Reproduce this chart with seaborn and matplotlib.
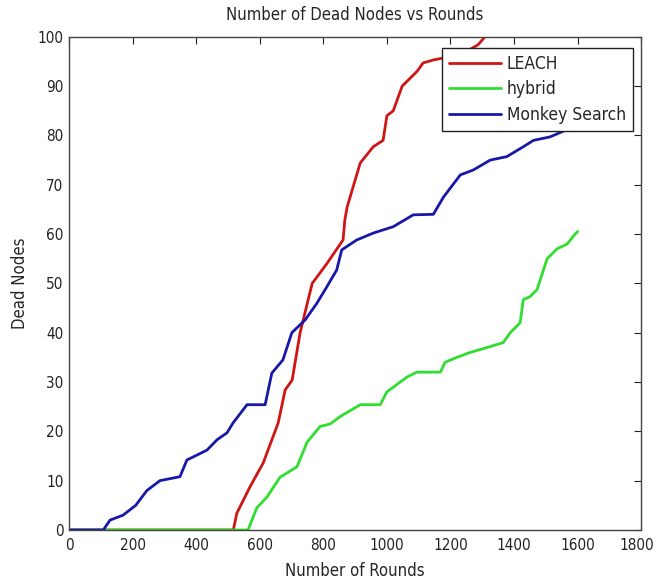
import matplotlib
matplotlib.use("Agg")
import matplotlib.pyplot as plt
import matplotlib.transforms as mtransforms
import seaborn as sns
import pandas as pd

# ---- data ----
leach_rounds = [0, 517, 528, 569, 611, 658, 680, 702, 727, 765, 811, 862, 868, 875, 916, 957,
                988, 1000, 1020, 1048, 1095, 1114, 1146, 1200, 1250, 1287, 1315, 1330]
leach_dead = [0, 0, 3.4, 8.7, 13.6, 21.7, 28.4, 30.4, 40, 50, 54, 58.8, 63, 65.5, 74.4, 77.7,
              79, 84, 85, 90, 93, 94.7, 95.3, 96, 97, 98.4, 100.5, 102]

hybrid_rounds = [0, 563, 591, 623, 664, 717, 749, 790, 822, 853, 916, 979, 1000, 1063, 1094,
                 1168, 1183, 1220, 1262, 1315, 1366, 1388, 1419, 1429, 1450, 1472, 1504, 1535,
                 1567, 1592, 1600]
hybrid_dead = [0, 0, 4.5, 6.7, 10.7, 12.8, 17.8, 21, 21.5, 23, 25.4, 25.4, 28, 31, 32,
               32, 34, 35, 36, 37, 38, 40, 42, 46.7, 47.3, 48.7, 55, 57,
               58, 60, 60.5]

monkey_rounds = [0, 108, 129, 170, 210, 245, 286, 349, 371, 403, 434, 466, 497, 516, 560, 601,
                 617, 638, 673, 701, 743, 780, 811, 842, 858, 905, 957, 1020, 1041, 1083, 1146,
                 1178, 1231, 1272, 1325, 1377, 1429, 1461, 1513, 1560, 1600]
monkey_dead = [0, 0, 2, 3, 5, 8, 10, 10.8, 14.2, 15.2, 16.2, 18.3, 19.7, 21.7, 25.4, 25.4,
               25.4, 31.8, 34.5, 40, 42.6, 46, 49.3, 52.7, 56.8, 58.8, 60.2, 61.5, 62.3, 63.9, 64,
               67.5, 72, 73, 75, 75.7, 77.7, 79, 79.7, 81, 82]

series_names = ["LEACH", "hybrid", "Monkey Search"]
series_colors = ["#d01515", "#30de30", "#1818a8"]

frames = []
for name, xs, ys in zip(series_names,
                        [leach_rounds, hybrid_rounds, monkey_rounds],
                        [leach_dead, hybrid_dead, monkey_dead]):
    frames.append(pd.DataFrame({"Rounds": xs, "Dead": ys, "Protocol": name}))
df = pd.concat(frames, ignore_index=True)

sns.set_style("white")
plt.rcParams["font.family"] = ["DejaVu Sans"]
plt.rcParams["font.stretch"] = "condensed"

fig = plt.figure(figsize=(6.57, 5.84), dpi=100)
ax = fig.add_axes([0.105, 0.0925, 0.871, 0.8445])

sns.lineplot(data=df, x="Rounds", y="Dead", hue="Protocol", hue_order=series_names,
             palette=series_colors, linewidth=2.0, sort=False, estimator=None, ax=ax)

ax.set_xlim(0, 1800)
ax.set_ylim(0, 100)
ax.set_xticks(range(0, 1801, 200))
ax.set_yticks(range(0, 101, 10))
ax.tick_params(direction="in", top=True, right=True, length=5, width=0.8,
               labelsize=11, colors="#222222", pad=4)
ax.tick_params(axis="x", pad=6)
for s in ax.spines.values():
    s.set_color("#444444")
    s.set_linewidth(1.0)

# nudge the last x tick label slightly left so it stays inside the figure
last = ax.get_xticklabels()[-1]
last.set_transform(last.get_transform() +
                   mtransforms.ScaledTranslation(-4 / 100, 0, fig.dpi_scale_trans))

ax.set_xlabel("Number of Rounds", fontsize=12, labelpad=6)
ax.set_ylabel("Dead Nodes", fontsize=12, labelpad=6)
ax.set_title("Number of Dead Nodes vs Rounds", fontsize=12, pad=12)

leg = ax.legend(loc="upper right", bbox_to_anchor=(0.985, 0.978), fontsize=12.5,
                frameon=True, fancybox=False, framealpha=1, edgecolor="#222222",
                handlelength=3.0, handletextpad=0.3, borderpad=0.4, labelspacing=0.45,
                borderaxespad=0)
leg.get_frame().set_linewidth(1.0)
leg.set_title(None)

fig.savefig("out.png", dpi=100, facecolor="white")
